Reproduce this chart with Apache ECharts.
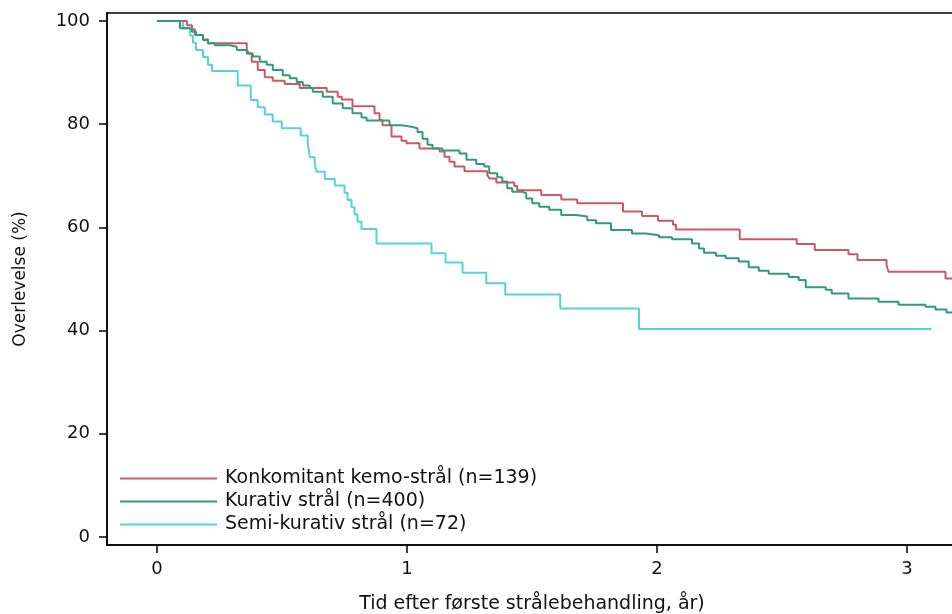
<!DOCTYPE html>
<html lang="da">
<head>
<meta charset="UTF-8">
<title>Overlevelse</title>
<script src="https://cdn.jsdelivr.net/npm/echarts@6/dist/echarts.min.js"></script>
<style>
  html, body { margin: 0; padding: 0; background: #fff; }
  #chart { width: 952px; height: 614px; }
</style>
</head>
<body>
<div id="chart"></div>
<script>
// Kaplan-Meier steps: time (år) and survival (%) after each drop
var seriesNames = ['Konkomitant kemo-strål (n=139)', 'Kurativ strål (n=400)', 'Semi-kurativ strål (n=72)'];

var kemoTime = [0, 0.120, 0.140, 0.152, 0.184, 0.204, 0.359, 0.367, 0.379, 0.403, 0.431, 0.463, 0.511, 0.571,
  0.679, 0.723, 0.739, 0.782, 0.870, 0.890, 0.902, 0.938, 0.978, 0.998, 1.050, 1.130, 1.150, 1.170, 1.190,
  1.230, 1.321, 1.329, 1.357, 1.429, 1.441, 1.537, 1.617, 1.681, 1.864, 1.940, 2.004, 2.064, 2.076, 2.331,
  2.559, 2.631, 2.766, 2.802, 2.918, 2.926, 3.154, 3.2];
var kemoSurv = [100, 99.2, 98.4, 97.3, 96.4, 95.7, 94.5, 93.7, 92.1, 90.5, 89.1, 88.4, 87.8, 87.0,
  86.3, 85.3, 84.8, 83.5, 82.1, 80.8, 79.8, 77.6, 76.8, 76.3, 75.3, 74.7, 73.7, 72.7, 71.8,
  70.9, 70.2, 69.5, 68.7, 68.0, 67.2, 66.3, 65.4, 64.7, 63.1, 62.2, 61.3, 60.5, 59.6, 57.7,
  56.8, 55.6, 54.8, 53.7, 52.7, 51.4, 50.1, 50.1];

var kurTime = [0, 0.092, 0.140, 0.156, 0.184, 0.204, 0.232, 0.291, 0.319, 0.359, 0.383, 0.411, 0.439, 0.463,
  0.503, 0.531, 0.559, 0.583, 0.611, 0.623, 0.663, 0.703, 0.743, 0.782, 0.818, 0.838, 0.930, 0.978, 1.018,
  1.042, 1.062, 1.082, 1.102, 1.142, 1.210, 1.238, 1.277, 1.309, 1.329, 1.361, 1.381, 1.401, 1.421, 1.461,
  1.477, 1.501, 1.529, 1.569, 1.617, 1.677, 1.721, 1.756, 1.816, 1.900, 1.956, 2.008, 2.060, 2.140, 2.168,
  2.188, 2.236, 2.275, 2.327, 2.367, 2.407, 2.447, 2.527, 2.567, 2.595, 2.675, 2.699, 2.766, 2.886, 2.966,
  3.074, 3.114, 3.158, 3.2];
var kurSurv = [100, 98.6, 97.9, 97.3, 96.3, 95.7, 95.3, 95.0, 94.4, 93.7, 93.1, 92.1, 91.5, 90.5,
  89.5, 88.9, 88.2, 87.5, 87.0, 86.3, 85.3, 84.0, 83.1, 82.1, 81.3, 80.7, 79.8, 79.5, 79.2,
  78.5, 77.2, 76.0, 75.3, 74.9, 74.3, 73.1, 72.3, 71.8, 70.5, 69.7, 68.9, 67.6, 66.9, 66.6,
  65.6, 64.7, 64.0, 63.4, 62.4, 62.1, 61.4, 60.8, 59.5, 58.8, 58.5, 58.1, 57.7, 56.9, 55.9,
  55.1, 54.5, 54.0, 53.4, 52.3, 51.6, 51.0, 50.4, 49.8, 48.4, 47.9, 47.2, 46.2, 45.6, 45.0,
  44.6, 44.1, 43.5, 43.5];

var semiTime = [0, 0.104, 0.132, 0.144, 0.156, 0.184, 0.204, 0.220, 0.323, 0.375, 0.403, 0.431, 0.463, 0.499,
  0.575, 0.603, 0.607, 0.611, 0.631, 0.639, 0.671, 0.711, 0.750, 0.762, 0.778, 0.790, 0.802, 0.818, 0.878,
  1.098, 1.154, 1.222, 1.317, 1.393, 1.613, 1.928, 3.098];
var semiSurv = [100, 98.6, 97.2, 95.8, 94.4, 93.0, 91.5, 90.3, 87.5, 84.7, 83.3, 81.9, 80.5, 79.2,
  77.8, 76.4, 75.0, 73.6, 72.2, 70.8, 69.4, 68.1, 66.7, 65.3, 63.9, 62.5, 61.1, 59.7, 56.9,
  55.0, 53.2, 51.2, 49.2, 47.0, 44.3, 40.3, 40.3];

var xTicks = [0, 1, 2, 3];
var yTicks = [0, 20, 40, 60, 80, 100];
var colors = ['#cc5862', '#2f9a7e', '#55d3da'];

function pairs(t, s) {
  return t.map(function (v, i) { return [v, s[i]]; });
}

var chart = echarts.init(document.getElementById('chart'));
var font = 'DejaVu Sans';

var option = {
  backgroundColor: '#fff',
  animation: false,
  color: colors,
  textStyle: { fontFamily: font },
  grid: {
    left: 107, right: -5, top: 13, bottom: 69,
    outerBoundsMode: 'none',
    show: true, borderColor: '#000', borderWidth: 1.5
  },
  legend: {
    orient: 'vertical',
    left: 115, top: 464,
    icon: 'rect',
    itemWidth: 97, itemHeight: 2, itemGap: 4,
    data: seriesNames,
    textStyle: { fontSize: 19, lineHeight: 16, color: '#111', padding: [0, 0, 0, 3], fontFamily: font }
  },
  xAxis: {
    type: 'value',
    min: -0.2, max: 3.2,
    name: 'Tid efter første strålebehandling, år)',
    nameLocation: 'middle', nameGap: 50,
    nameTextStyle: { fontSize: 19, color: '#111', fontFamily: font },
    axisLine: { show: true, onZero: false, lineStyle: { color: '#000', width: 1.5 } },
    axisTick: { show: true, length: 8, lineStyle: { color: '#000', width: 1.5 }, customValues: xTicks },
    axisLabel: { fontSize: 18, color: '#111', margin: 15, customValues: xTicks },
    splitLine: { show: false }
  },
  yAxis: {
    type: 'value',
    min: -1.55, max: 101.55,
    name: 'Overlevelse (%)',
    nameLocation: 'middle', nameGap: 78,
    nameTextStyle: { fontSize: 17, color: '#111', fontFamily: font },
    axisLine: { show: true, onZero: false, lineStyle: { color: '#000', width: 1.5 } },
    axisTick: { show: true, length: 8, lineStyle: { color: '#000', width: 1.5 }, customValues: yTicks },
    axisLabel: { fontSize: 18, color: '#111', margin: 17, customValues: yTicks },
    splitLine: { show: false }
  },
  series: [
    { name: seriesNames[0], type: 'line', step: 'end', symbol: 'none', data: pairs(kemoTime, kemoSurv),
      lineStyle: { width: 2, color: colors[0] }, z: 3 },
    { name: seriesNames[1], type: 'line', step: 'end', symbol: 'none', data: pairs(kurTime, kurSurv),
      lineStyle: { width: 2, color: colors[1] }, z: 4 },
    { name: seriesNames[2], type: 'line', step: 'end', symbol: 'none', data: pairs(semiTime, semiSurv),
      lineStyle: { width: 2, color: colors[2] }, z: 2 }
  ]
};

chart.setOption(option);
</script>
</body>
</html>
